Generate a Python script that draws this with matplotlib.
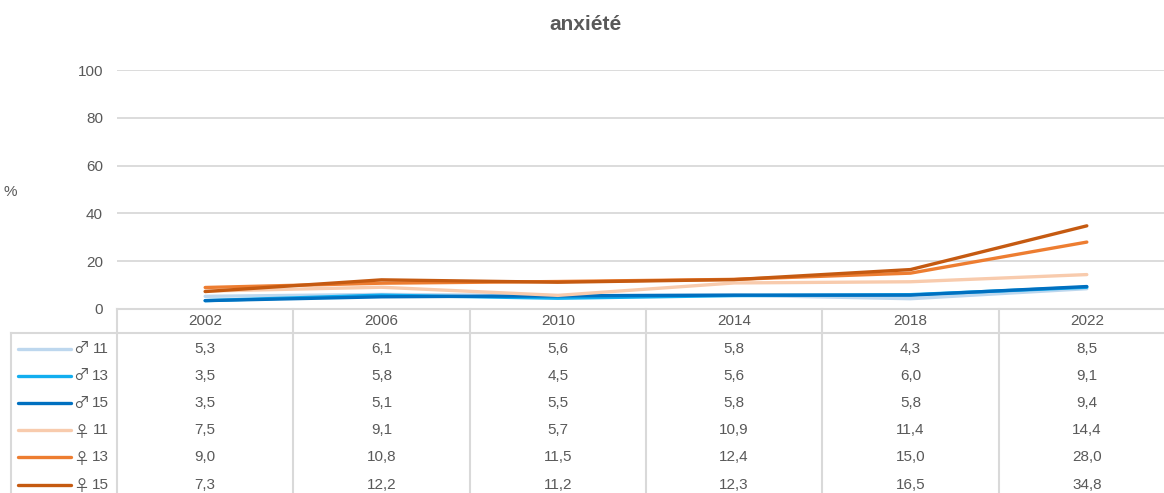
import matplotlib
matplotlib.use("Agg")
import matplotlib.pyplot as plt

plt.rcParams['font.family'] = ['Liberation Sans', 'DejaVu Sans']

years = ["2002", "2006", "2010", "2014", "2018", "2022"]
labels = ["\u2642 11", "\u2642 13", "\u2642 15", "\u2640 11", "\u2640 13", "\u2640 15"]
boys_11 = [5.3, 6.1, 5.6, 5.8, 4.3, 8.5]
boys_13 = [3.5, 5.8, 4.5, 5.6, 6.0, 9.1]
boys_15 = [3.5, 5.1, 5.5, 5.8, 5.8, 9.4]
girls_11 = [7.5, 9.1, 5.7, 10.9, 11.4, 14.4]
girls_13 = [9.0, 10.8, 11.5, 12.4, 15.0, 28.0]
girls_15 = [7.3, 12.2, 11.2, 12.3, 16.5, 34.8]
series = [boys_11, boys_13, boys_15, girls_11, girls_13, girls_15]
colors = ["#bdd7ee", "#12aeef", "#0070c0", "#f8cbad", "#ed7d31", "#c55a11"]

W, H = 1164, 493
TXT = "#595959"
GRID = "#d9d9d9"

fig = plt.figure(figsize=(W / 100, H / 100), dpi=100)

# pixel layout
col_w = 176.33
ax_left = 117
ax_right = ax_left + 6 * col_w
tab_left = 11
y_top, y_zero = 70, 309
hdr_h, row_h = 24, 27.2
tab_bottom = y_zero + hdr_h + 2 + 6 * row_h

ax = fig.add_axes([ax_left / W, 1 - y_zero / H, (ax_right - ax_left) / W, (y_zero - y_top) / H])
x = range(len(years))
for s, c in zip(series, colors):
    ax.plot(x, s, color=c, lw=2.4, solid_capstyle='round')
ax.set_xlim(-0.5, 5.5)
ax.set_ylim(0, 100)
ax.set_yticks(range(0, 101, 20))
ax.tick_params(axis='y', length=0, pad=10, labelsize=11, labelcolor=TXT)
ax.set_xticks([])
for sp in ax.spines.values():
    sp.set_visible(False)
ax.grid(axis='y', color=GRID, lw=1.3)
ax.set_axisbelow(True)

fig.text(585 / W, 1 - 25 / H, "anxiété", ha='center', va='center',
         fontsize=15, fontweight='bold', color=TXT)
fig.text(10 / W, 1 - 192 / H, "%", ha='center', va='center', fontsize=11, color=TXT)

# data table under the chart
lw_units = (ax_left - tab_left) / col_w
tab = fig.add_axes([tab_left / W, 1 - tab_bottom / H, (ax_right - tab_left) / W, (tab_bottom - y_zero) / H])
tab.set_xlim(-0.5 - lw_units, 5.5)
tab.set_ylim(tab_bottom - y_zero, 0)
tab.axis('off')

def px(xp):
    return -0.5 - (ax_left - xp) / col_w

tot = tab_bottom - y_zero
kw = dict(color=GRID, lw=1.5, clip_on=False)
tab.plot([-0.5, 5.5], [0, 0], **kw)
tab.plot([-0.5 - lw_units, 5.5], [hdr_h, hdr_h], **kw)
tab.plot([-0.5 - lw_units, -0.5 - lw_units], [hdr_h, tot], **kw)
for i in range(7):
    tab.plot([i - 0.5, i - 0.5], [0, tot], **kw)

for i, yr in enumerate(years):
    tab.text(i, hdr_h / 2, yr, ha='center', va='center', fontsize=11, color=TXT)

for r, (lab, s, c) in enumerate(zip(labels, series, colors)):
    yc = hdr_h + 2 + row_h * (r + 0.5)
    sym, age = lab.split(" ")
    tab.plot([px(18), px(71)], [yc, yc], color=c, lw=2.4, solid_capstyle='round')
    dy = 2 if sym == "\u2640" else 0
    tab.text(px(81), yc + dy, sym, ha='center', va='center', fontsize=11.5, color=TXT,
             family=['Noto Sans CJK JP', 'DejaVu Sans'])
    tab.text(px(108.5), yc, age, ha='right', va='center', fontsize=11, color=TXT)
    for i, v in enumerate(s):
        tab.text(i, yc, f"{v:.1f}".replace('.', ','), ha='center', va='center',
                 fontsize=11, color=TXT)

fig.savefig("out.png", dpi=100)
